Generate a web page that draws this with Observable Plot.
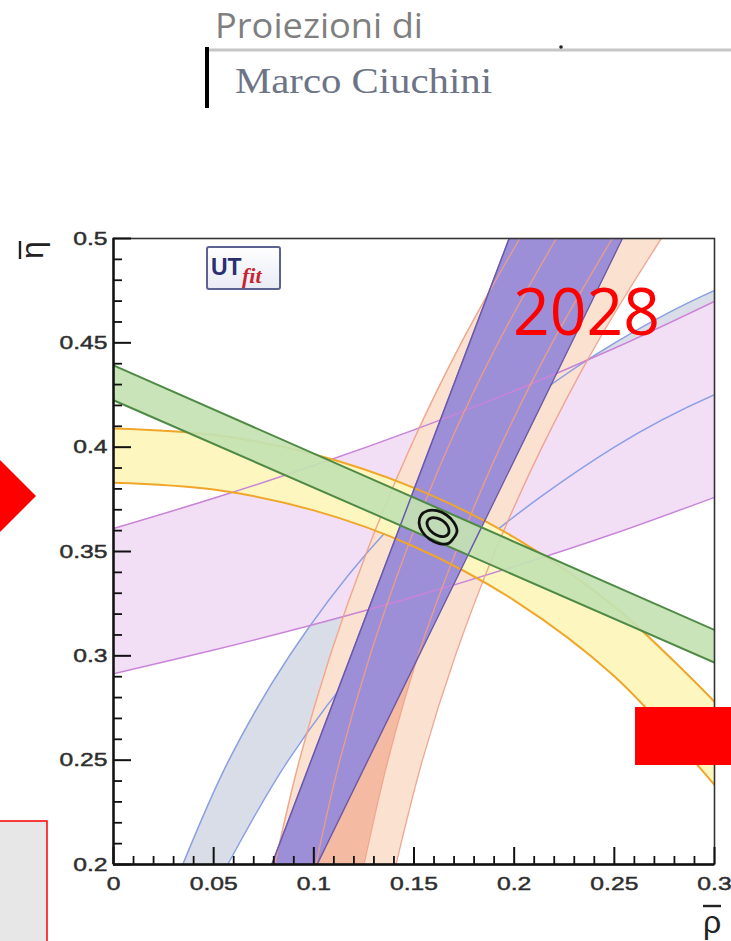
<!DOCTYPE html>
<html>
<head>
<meta charset="utf-8">
<script src="https://cdn.jsdelivr.net/npm/d3@7"></script>
<script src="https://cdn.jsdelivr.net/npm/@observablehq/plot@0.6"></script>
<style>
  html, body { margin: 0; padding: 0; background: #fff; }
  #page { position: relative; width: 731px; height: 941px; overflow: hidden; background: #fff; }
  #chart { position: absolute; left: 0; top: 0; }
  #overlay { position: absolute; left: 0; top: 0; pointer-events: none; }
</style>
</head>
<body>
<div id="page">
  <div id="chart"></div>
  <svg id="overlay" width="731" height="941"></svg>
</div>
<script>
// ---------- DATA (rho-bar / eta-bar units) ----------
// bands sampled along rho
const rhoGrid    = [0, 0.05, 0.1, 0.15, 0.2, 0.25, 0.3];
const lilacLow   = [0.2914, 0.3028, 0.3150, 0.3283, 0.3428, 0.3586, 0.3760];
const lilacHigh  = [0.3610, 0.3755, 0.3912, 0.4083, 0.4269, 0.4474, 0.4699];
const yellowLow  = [0.3830, 0.3797, 0.3697, 0.3524, 0.3266, 0.2902, 0.2381];
const yellowHigh = [0.4090, 0.4059, 0.3966, 0.3805, 0.3568, 0.3237, 0.2780];
const greenRho   = [0, 0.3];
const greenLow   = [0.4225, 0.2968];
const greenHigh  = [0.4392, 0.3124];

// bands sampled along eta
const etaGrid    = [0.2, 0.25, 0.3, 0.35, 0.4, 0.45, 0.5];
const peach1Left  = [0.0805, 0.0928, 0.1081, 0.1265, 0.1482, 0.1736, 0.2028];
const peach1Right = [0.125, 0.137, 0.152, 0.171, 0.193, 0.219, 0.249];
const peach2Left  = [0.101, 0.113, 0.128, 0.146, 0.167, 0.192, 0.221];
const peach2Right = [0.1410, 0.1542, 0.1706, 0.1904, 0.2139, 0.2414, 0.2734];
const gammaEta   = [0.2, 0.5];
const gammaLeft  = [0.079, 0.1975];
const gammaRight = [0.1016, 0.254];
const alphaEta   = [0.2, 0.25, 0.3, 0.35, 0.4, 0.425, 0.45, 0.475, 0.5];
const alphaLeft  = [0.0346, 0.0576, 0.0878, 0.1271, 0.1788, 0.2112, 0.2503, 0.2999, 0.3716];
const alphaRight = [0.0570, 0.0873, 0.1267, 0.1784, 0.2500, 0.2997, 0.3714, 0.40, 0.40];

// fit contours
const contourOuterRho = [0.16948, 0.16722, 0.16256, 0.15775, 0.15408, 0.15253, 0.15353, 0.15679, 0.16144, 0.16625, 0.16992, 0.17147];
const contourOuterEta = [0.35602, 0.35388, 0.35383, 0.35590, 0.35952, 0.36372, 0.36738, 0.36952, 0.36957, 0.36750, 0.36388, 0.35968];
const contourInnerRho = [0.16704, 0.16524, 0.16259, 0.15976, 0.15755, 0.15652, 0.15697, 0.15876, 0.16142, 0.16424, 0.16646, 0.16748];
const contourInnerEta = [0.35832, 0.35725, 0.35737, 0.35864, 0.36074, 0.36310, 0.36508, 0.36615, 0.36603, 0.36476, 0.36266, 0.36030];

// axes
const xTicks = [0, 0.05, 0.1, 0.15, 0.2, 0.25, 0.3];
const xTickLabels = ["0", "0.05", "0.1", "0.15", "0.2", "0.25", "0.3"];
const yTicks = [0.2, 0.25, 0.3, 0.35, 0.4, 0.45, 0.5];
const yTickLabels = ["0.2", "0.25", "0.3", "0.35", "0.4", "0.45", "0.5"];

// ---------- tables ----------
const lilac  = rhoGrid.map((rho, i) => ({rho, lo: lilacLow[i], hi: lilacHigh[i]}));
const yellow = rhoGrid.map((rho, i) => ({rho, lo: yellowLow[i], hi: yellowHigh[i]}));
const green  = greenRho.map((rho, i) => ({rho, lo: greenLow[i], hi: greenHigh[i]}));
const peach1 = etaGrid.map((eta, i) => ({eta, l: peach1Left[i], r: peach1Right[i]}));
const peach2 = etaGrid.map((eta, i) => ({eta, l: peach2Left[i], r: peach2Right[i]}));
const peachOverlap = etaGrid.map((eta, i) => ({eta, l: peach2Left[i], r: peach1Right[i]}));
const gamma  = gammaEta.map((eta, i) => ({eta, l: gammaLeft[i], r: gammaRight[i]}));
const alpha  = alphaEta.map((eta, i) => ({eta, l: alphaLeft[i], r: alphaRight[i]}));
const outer  = contourOuterRho.map((rho, i) => ({rho, eta: contourOuterEta[i]}));
const inner  = contourInnerRho.map((rho, i) => ({rho, eta: contourInnerEta[i]}));

const xMinor = d3.range(0, 0.3001, 0.01).filter(v => !xTicks.some(t => Math.abs(t - v) < 1e-6));
const yMinor = d3.range(0.2, 0.5001, 0.01).filter(v => !yTicks.some(t => Math.abs(t - v) < 1e-6));

const W = 731, H = 941, mL = 113, mR = 17, mT = 238, mB = 77;
const frameW = W - mL - mR, frameH = H - mT - mB;
const cr = "catmull-rom";

const vLine = (data, key, stroke, sw, extra = {}) =>
  Plot.line(data, {x: key, y: "eta", stroke, strokeWidth: sw, curve: cr, clip: true, ...extra});
const hLine = (data, key, stroke, sw, extra = {}) =>
  Plot.line(data, {x: "rho", y: key, stroke, strokeWidth: sw, curve: cr, clip: true, ...extra});

const chart = Plot.plot({
  width: W, height: H,
  marginLeft: mL, marginRight: mR, marginTop: mT, marginBottom: mB,
  x: {domain: [0, 0.3]},
  y: {domain: [0.2, 0.5]},
  style: {background: "transparent", color: "#2a2a2a", fontFamily: "Liberation Sans, Arial, sans-serif", fontSize: "19px"},
  marks: [
    // fills
    Plot.areaX(alpha, {y: "eta", x1: "l", x2: "r", fill: "#d9dde7", curve: cr, clip: true}),
    Plot.areaY(lilac, {x: "rho", y1: "lo", y2: "hi", fill: "#f2dff6", curve: cr, clip: true}),
    Plot.areaX(peach1, {y: "eta", x1: "l", x2: "r", fill: "#fbe2d0", curve: cr, clip: true}),
    Plot.areaX(peach2, {y: "eta", x1: "l", x2: "r", fill: "#fbe2d0", curve: cr, clip: true}),
    Plot.areaX(peachOverlap, {y: "eta", x1: "l", x2: "r", fill: "#f4baa2", curve: cr, clip: true}),
    vLine(alpha, "l", "#8c9fe4", 1.5),
    vLine(alpha, "r", "#8c9fe4", 1.5),
    Plot.areaY(yellow, {x: "rho", y1: "lo", y2: "hi", fill: "#fdf7bf", curve: cr, clip: true}),
    Plot.areaX(gamma, {y: "eta", x1: "l", x2: "r", fill: "#9c8ed7", clip: true}),
    // lines
    hLine(lilac, "lo", "#c984d8", 1.5),
    hLine(lilac, "hi", "#c984d8", 1.5),
    vLine(peach1, "l", "#ee9f86", 1.4, {strokeOpacity: 0.9}),
    vLine(peach1, "r", "#ee9f86", 1.4, {strokeOpacity: 0.9}),
    vLine(peach2, "l", "#ee9f86", 1.4, {strokeOpacity: 0.9}),
    vLine(peach2, "r", "#ee9f86", 1.4, {strokeOpacity: 0.9}),
    hLine(yellow, "lo", "#f0a62a", 2),
    hLine(yellow, "hi", "#f0a62a", 2),
    Plot.areaY(green, {x: "rho", y1: "lo", y2: "hi", fill: "#c3e2b2", fillOpacity: 0.92, clip: true}),
    Plot.line(gamma, {x: "l", y: "eta", stroke: "#6a58aa", strokeWidth: 1.5, clip: true}),
    Plot.line(gamma, {x: "r", y: "eta", stroke: "#6a58aa", strokeWidth: 1.5, clip: true}),
    Plot.line(green, {x: "rho", y: "lo", stroke: "#4f8a45", strokeWidth: 2, clip: true}),
    Plot.line(green, {x: "rho", y: "hi", stroke: "#4f8a45", strokeWidth: 2, clip: true}),
    Plot.line(outer, {x: "rho", y: "eta", curve: "catmull-rom-closed", stroke: "#111", strokeWidth: 2.8}),
    Plot.line(inner, {x: "rho", y: "eta", curve: "catmull-rom-closed", stroke: "#111", strokeWidth: 2.8}),
    // frame & ticks (ticks point inward)
    Plot.frame({stroke: "#333", strokeWidth: 1.6}),
    Plot.ruleX([0], {stroke: "#111", strokeWidth: 2.4}),
    Plot.ruleY([0.2], {stroke: "#111", strokeWidth: 2.4}),
    Plot.tickX(xTicks, {x: d => d, stroke: "#111", strokeWidth: 2, insetTop: frameH - 17}),
    Plot.tickX(xMinor, {x: d => d, stroke: "#111", strokeWidth: 1.8, insetTop: frameH - 8}),
    Plot.tickY(yTicks, {y: d => d, stroke: "#111", strokeWidth: 2, insetRight: frameW - 18}),
    Plot.tickY(yMinor, {y: d => d, stroke: "#111", strokeWidth: 1.8, insetRight: frameW - 9}),
    Plot.axisX(xTicks, {tickSize: 0, tickPadding: 12,
      tickFormat: d => xTickLabels[xTicks.indexOf(d)], label: null}),
    Plot.axisY(yTicks, {tickSize: 0, tickPadding: 6,
      tickFormat: d => yTickLabels[yTicks.indexOf(d)], label: null})
  ]
});
document.getElementById("chart").appendChild(chart);

// tick labels: enlarge, darken slightly and widen (the source glyphs are horizontally stretched)
chart.querySelectorAll('g[aria-label$="tick label"]').forEach(g => {
  g.setAttribute("font-size", "19");
  g.style.fontSize = "19px";
  g.setAttribute("fill", "#2e2e2e");
  g.querySelectorAll("text").forEach(t => {
    t.style.fontSize = "19px";
    t.setAttribute("stroke", "#2e2e2e");
    t.setAttribute("stroke-width", "0.45");
    const tr = t.getAttribute("transform");
    t.setAttribute("transform", (tr ? tr + " " : "") + "scale(1.3,1)");
  });
});

// ---------- overlay decorations ----------
const ov = document.getElementById("overlay");
ov.innerHTML = `
  <text x="215" y="38" font-family="Open Sans, Noto Sans, sans-serif" font-size="34" fill="#7f7f7f"
        textLength="208" lengthAdjust="spacingAndGlyphs">Proiezioni di</text>
  <line x1="209" y1="50" x2="731" y2="50" stroke="#c6c6c6" stroke-width="3"/>
  <rect x="205" y="47" width="4" height="61" fill="#000"/>
  <circle cx="561" cy="47" r="1.8" fill="#222"/>
  <text x="235" y="93" font-family="Liberation Serif, Times New Roman, serif" font-size="36" fill="#6c7486"
        textLength="257" lengthAdjust="spacingAndGlyphs">Marco Ciuchini</text>

  <polygon points="-36,496 0,460 36,496 0,532" fill="#ff0000"/>
  <rect x="-2" y="821" width="49" height="130" fill="#e7e7e7" stroke="#ff0000" stroke-width="1.5"/>
  <rect x="635" y="707" width="100" height="58" fill="#ff0000"/>

  <g transform="translate(43,250) rotate(-90)">
    <text x="0" y="0" text-anchor="middle" font-family="Liberation Sans, Arial, sans-serif" font-size="32" fill="#222">η</text>
    <line x1="-9" x2="9" y1="-23" y2="-23" stroke="#222" stroke-width="2.4"/>
  </g>
  <text x="712" y="933" text-anchor="middle" font-family="Liberation Sans, Arial, sans-serif" font-size="32" fill="#222">ρ</text>
  <line x1="703" x2="721" y1="906" y2="906" stroke="#222" stroke-width="2.4"/>

  <defs>
    <linearGradient id="lg" x1="0" y1="0" x2="0" y2="1">
      <stop offset="0" stop-color="#ffffff"/>
      <stop offset="1" stop-color="#e9ebf4"/>
    </linearGradient>
  </defs>
  <rect x="207" y="247" width="73" height="42" rx="2" fill="url(#lg)" stroke="#5d6390" stroke-width="2"/>
  <text x="211" y="275" font-family="Liberation Sans, Arial, sans-serif" font-weight="bold" font-size="23" fill="#2b2f72">UT</text>
  <text x="242" y="283" font-family="Liberation Serif, serif" font-style="italic" font-weight="bold" font-size="22" fill="#c62430">fit</text>

  <text x="513" y="335" font-family="Open Sans, Noto Sans, sans-serif" font-size="66" fill="#ff0000"
        textLength="147" lengthAdjust="spacingAndGlyphs">2028</text>
`;
</script>
</body>
</html>
